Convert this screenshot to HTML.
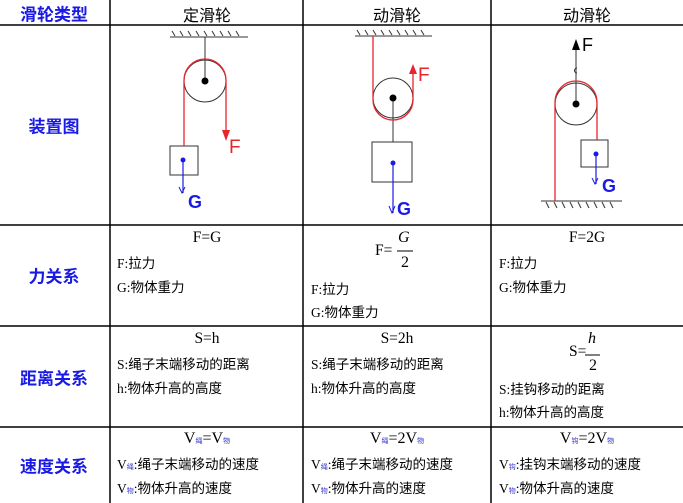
<!DOCTYPE html>
<html><head><meta charset="utf-8"><style>
body{margin:0;background:#fff;width:683px;height:503px;overflow:hidden;position:relative;font-family:"Liberation Serif","Noto Sans CJK SC",serif;}
.t{position:absolute;font-size:13.5px;color:#000;white-space:nowrap;line-height:16px;}
.h{position:absolute;font-size:16px;white-space:nowrap;font-family:"Liberation Sans","Noto Sans CJK SC",sans-serif;transform:translateX(-50%);top:2px;}
.b{position:absolute;font-size:17px;font-weight:bold;color:#1a1ae6;white-space:nowrap;font-family:"Liberation Sans","Noto Sans CJK SC",sans-serif;transform:translate(-50%,-50%);left:54px;}
.c{transform:translateX(-50%);font-size:15.5px;}
.s{font-size:7px;color:#33c;}
.fr{position:absolute;text-align:center;font-size:16px;line-height:18px;}
</style></head><body>
<svg width="683" height="503" style="position:absolute;left:0;top:0">
<g stroke="#000" stroke-width="1.5">
<line x1="110" y1="0" x2="110" y2="503"/><line x1="303" y1="0" x2="303" y2="503"/><line x1="491" y1="0" x2="491" y2="503"/>
<line x1="0" y1="25" x2="683" y2="25"/><line x1="0" y1="225" x2="683" y2="225"/><line x1="0" y1="326" x2="683" y2="326"/><line x1="0" y1="427" x2="683" y2="427"/>
</g>
<g stroke="#333" stroke-width="1" fill="none">
<line x1="170" y1="37" x2="248" y2="37"/>
<path d="M172 31l3 5M180 31l3 5M188 31l3 5M196 31l3 5M204 31l3 5M212 31l3 5M220 31l3 5M228 31l3 5M236 31l3 5"/>
<line x1="205" y1="37" x2="205" y2="81"/>
<circle cx="205" cy="81" r="21"/>
<rect x="170" y="146" width="28" height="29"/>
</g>
<circle cx="205" cy="81" r="3.5" fill="#000"/>
<path d="M184 146V80A21 21 0 0 1 226 80V130" stroke="#e8242c" stroke-width="1.3" fill="none"/>
<path d="M222 130h8l-4 11z" fill="#e8242c"/>
<text x="229" y="153" fill="#e8242c" font-family="Liberation Sans,sans-serif" font-size="19">F</text>
<circle cx="183" cy="160" r="2.5" fill="#1a1ae6"/>
<line x1="183" y1="160" x2="183" y2="193" stroke="#1a1ae6" stroke-width="1.2"/>
<path d="M179 187l3 6l3-6" stroke="#1a1ae6" fill="none"/>
<text x="188" y="208" fill="#1a1ae6" font-family="Liberation Sans,sans-serif" font-size="18" font-weight="bold">G</text>
<g stroke="#333" stroke-width="1" fill="none">
<line x1="355" y1="36" x2="432" y2="36"/>
<path d="M357 30l3 5M365 30l3 5M373 30l3 5M381 30l3 5M389 30l3 5M397 30l3 5M405 30l3 5M413 30l3 5M421 30l3 5"/>
<circle cx="393" cy="98" r="20"/>
<line x1="393" y1="98" x2="393" y2="142"/>
<rect x="372" y="142" width="40" height="40"/>
</g>
<circle cx="393" cy="98" r="3.5" fill="#000"/>
<path d="M373 36V100A20 20 0 0 0 413 100V72" stroke="#e8242c" stroke-width="1.3" fill="none"/>
<path d="M409 74h8l-4-10z" fill="#e8242c"/>
<text x="418" y="81" fill="#e8242c" font-family="Liberation Sans,sans-serif" font-size="19">F</text>
<circle cx="393" cy="163" r="2.5" fill="#1a1ae6"/>
<line x1="393" y1="163" x2="393" y2="213" stroke="#1a1ae6" stroke-width="1.2"/>
<path d="M389 206l3 7l3-7" stroke="#1a1ae6" fill="none"/>
<text x="397" y="215" fill="#1a1ae6" font-family="Liberation Sans,sans-serif" font-size="18" font-weight="bold">G</text>
<g stroke="#333" stroke-width="1" fill="none">
<circle cx="576" cy="104" r="21"/>
<line x1="576" y1="48" x2="576" y2="104"/>
<path d="M577 68a2.5 2.5 0 1 0 0 5"/>
<rect x="581" y="140" width="27" height="27"/>
<line x1="541" y1="201" x2="622" y2="201"/>
<path d="M546 202l3 6M554 202l3 6M562 202l3 6M570 202l3 6M578 202l3 6M586 202l3 6M594 202l3 6M602 202l3 6M610 202l3 6"/>
</g>
<path d="M572 50h8l-4-11z" fill="#000"/>
<text x="582" y="51" fill="#000" font-family="Liberation Sans,sans-serif" font-size="18">F</text>
<circle cx="576" cy="104" r="3.5" fill="#000"/>
<path d="M555 201V102A21 21 0 0 1 597 102V140" stroke="#e8242c" stroke-width="1.3" fill="none"/>
<circle cx="596" cy="154" r="2.5" fill="#1a1ae6"/>
<line x1="596" y1="154" x2="596" y2="184" stroke="#1a1ae6" stroke-width="1.2"/>
<path d="M592 178l3 6l3-6" stroke="#1a1ae6" fill="none"/>
<text x="602" y="192" fill="#1a1ae6" font-family="Liberation Sans,sans-serif" font-size="18" font-weight="bold">G</text>
<line x1="397" y1="251" x2="413" y2="251" stroke="#000"/>
<line x1="585" y1="355" x2="600" y2="355" stroke="#000"/>
</svg>
<div class="b" style="top:13px">滑轮类型</div>
<div class="b" style="top:125px">装置图</div>
<div class="b" style="top:275px">力关系</div>
<div class="b" style="top:377px">距离关系</div>
<div class="b" style="top:465px">速度关系</div>
<div class="h" style="left:207px">定滑轮</div>
<div class="h" style="left:397px">动滑轮</div>
<div class="h" style="left:587px">动滑轮</div>

<div class="t c" style="left:207px;top:230px">F=G</div>
<div class="t" style="left:117px;top:256px">F:拉力</div>
<div class="t" style="left:117px;top:280px">G:物体重力</div>
<div class="t" style="left:375px;top:243px;font-size:15.5px">F=</div>
<div class="fr" style="left:398px;top:229px;font-style:italic">G</div>
<div class="fr" style="left:401px;top:254px">2</div>
<div class="t" style="left:311px;top:282px">F:拉力</div>
<div class="t" style="left:311px;top:305px">G:物体重力</div>
<div class="t c" style="left:587px;top:230px">F=2G</div>
<div class="t" style="left:499px;top:256px">F:拉力</div>
<div class="t" style="left:499px;top:280px">G:物体重力</div>

<div class="t c" style="left:207px;top:331px">S=h</div>
<div class="t" style="left:117px;top:357px">S:绳子末端移动的距离</div>
<div class="t" style="left:117px;top:381px">h:物体升高的高度</div>
<div class="t c" style="left:397px;top:331px">S=2h</div>
<div class="t" style="left:311px;top:357px">S:绳子末端移动的距离</div>
<div class="t" style="left:311px;top:381px">h:物体升高的高度</div>
<div class="t" style="left:569px;top:344px;font-size:15.5px">S=</div>
<div class="fr" style="left:588px;top:330px;font-style:italic">h</div>
<div class="fr" style="left:589px;top:357px">2</div>
<div class="t" style="left:499px;top:382px">S:挂钩移动的距离</div>
<div class="t" style="left:499px;top:405px">h:物体升高的高度</div>

<div class="t c" style="left:207px;top:431px;font-size:16px">V<span class="s">绳</span>=V<span class="s">物</span></div>
<div class="t" style="left:117px;top:457px">V<span class="s">绳</span>:绳子末端移动的速度</div>
<div class="t" style="left:117px;top:481px">V<span class="s">物</span>:物体升高的速度</div>
<div class="t c" style="left:397px;top:431px;font-size:16px">V<span class="s">绳</span>=2V<span class="s">物</span></div>
<div class="t" style="left:311px;top:457px">V<span class="s">绳</span>:绳子末端移动的速度</div>
<div class="t" style="left:311px;top:481px">V<span class="s">物</span>:物体升高的速度</div>
<div class="t c" style="left:587px;top:431px;font-size:16px">V<span class="s">钩</span>=2V<span class="s">物</span></div>
<div class="t" style="left:499px;top:457px">V<span class="s">钩</span>:挂钩末端移动的速度</div>
<div class="t" style="left:499px;top:481px">V<span class="s">物</span>:物体升高的速度</div>
</body></html>
